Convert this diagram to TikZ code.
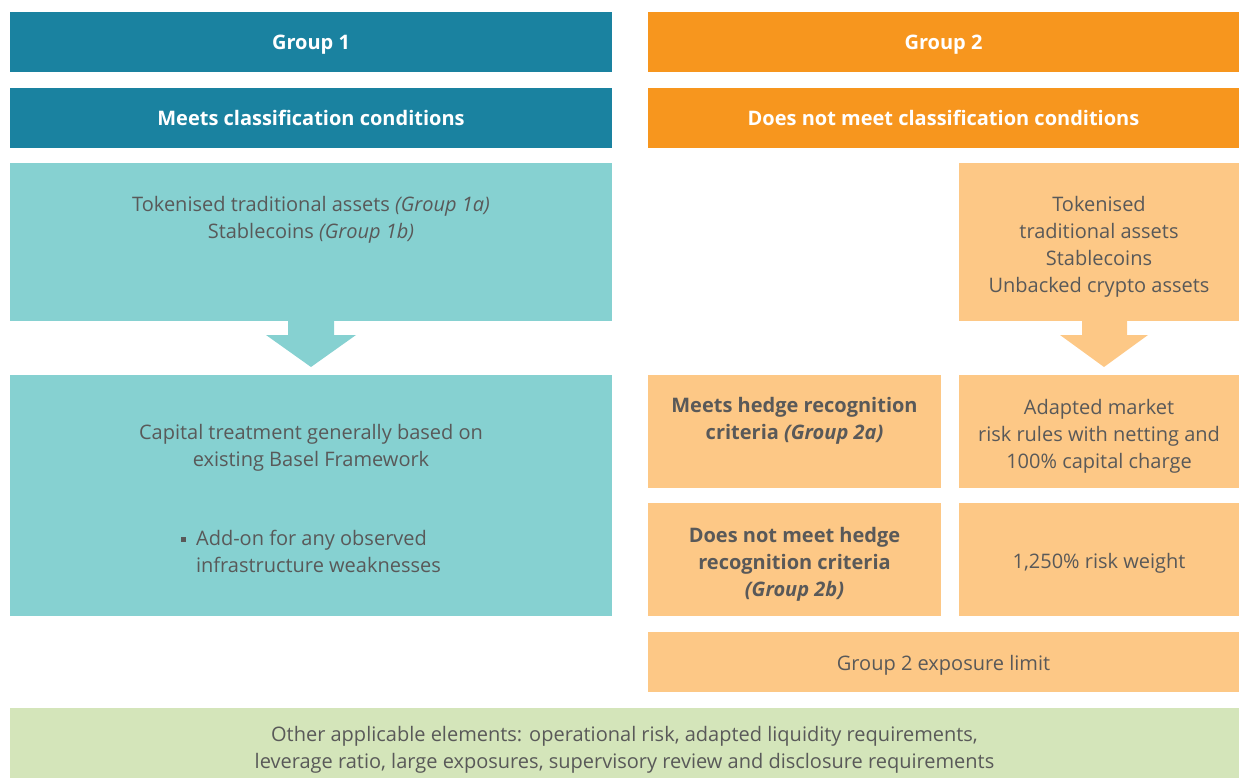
\documentclass[tikz,border=0pt]{standalone}
\usepackage{fontspec}
\setmainfont{Open Sans}
\usepackage{tikz}
\usetikzlibrary{calc}
\definecolor{tealdark}{HTML}{1A82A0}
\definecolor{teallight}{HTML}{86D1D1}
\definecolor{orangedark}{HTML}{F7961E}
\definecolor{orangelight}{HTML}{FDC886}
\definecolor{greenlight}{HTML}{D4E5BA}
\definecolor{txtgrey}{HTML}{595959}
\tikzstyle{box}=[anchor=north west,inner sep=0pt,outer sep=0pt,
                 align=center,text=txtgrey,
                 font=\fontsize{20}{27}\selectfont,
                 execute at begin node={\rule{0pt}{22pt}}]
\tikzstyle{headbox}=[anchor=north west,inner sep=0pt,outer sep=0pt,
                     minimum height=60pt,text=white,
                     text height=20pt,text depth=4pt,
                     font=\fontsize{20}{24}\selectfont\bfseries]
\tikzstyle{bodytext}=[inner sep=0pt,align=center,text=txtgrey,
                      font=\fontsize{20}{27}\selectfont]

\begin{document}
\begin{tikzpicture}[x=1pt,y=-1pt]
    \useasboundingbox (0,0) rectangle (1239,778);
    \newcommand{\bul}{\raisebox{4pt}{\rule{5pt}{5pt}}}
    % headers
    \node (g1) at (10,12) [headbox,fill=tealdark,minimum width=602pt]{Group 1};
    \node (g2) at (648,12) [headbox,fill=orangedark,minimum width=591pt]{Group 2};
    \node (c1) at (10,88) [headbox,fill=tealdark,minimum width=602pt]{Meets classification conditions};
    \node (c2) at (648,88) [headbox,fill=orangedark,minimum width=591pt]{Does not meet classification conditions};
    % group 1
    \node (a1) at (10,163) [box,fill=teallight,minimum width=602pt,minimum height=158pt]{};
    \node (a1t) at (311,220) [bodytext]{Tokenised traditional assets \textit{(Group 1a)}\\
        Stablecoins \textit{(Group 1b)}};
    \node (t1) at (10,375) [box,fill=teallight,minimum width=602pt,minimum height=241pt]{
        \rule{0pt}{29pt}Capital treatment generally based on\\existing Basel Framework\\[55pt]
        \begin{tabular}{@{}l@{\hspace{10pt}}l@{}}\bul & Add-on for any observed\\
        & infrastructure weaknesses\end{tabular}};
    \fill[teallight] ($(a1.south)+(-23,0)$) -- ($(a1.south)+(23,0)$) -- ($(a1.south)+(23,14)$)
        -- ($(a1.south)+(45,14)$) -- ($(t1.north)+(0,-8)$) -- ($(a1.south)+(-45,14)$)
        -- ($(a1.south)+(-23,14)$) -- cycle;
    % group 2
    \node (a2) at (959,163) [box,fill=orangelight,minimum width=280pt,minimum height=158pt]{
        \rule{0pt}{24pt}Tokenised\\traditional assets\\Stablecoins\\Unbacked crypto assets};
    \node (h2a) at (648,375) [box,fill=orangelight,minimum width=293pt,minimum height=113pt]{};
    \node (h2at) at (794.5,421) [bodytext,font=\fontsize{20}{27}\selectfont\bfseries]{
        Meets hedge recognition\\criteria \textit{(Group 2a)}};
    \node (r2a) at (959,375) [box,fill=orangelight,minimum width=280pt,minimum height=113pt]{
        \rule{0pt}{24pt}Adapted market\\risk rules with netting and\\100\% capital charge};
    \node (h2b) at (648,503) [box,fill=orangelight,minimum width=293pt,minimum height=113pt,
        font=\fontsize{20}{27}\selectfont\bfseries]{
        \rule{0pt}{24pt}Does not meet hedge\\recognition criteria\\\textit{(Group 2b)}};
    \node (r2b) at (959,503) [box,fill=orangelight,minimum width=280pt,minimum height=113pt]{
        1,250\% risk weight};
    \node (lim) at (648,632) [box,fill=orangelight,minimum width=591pt,minimum height=60pt]{
        Group 2 exposure limit};
    \fill[orangelight] ($(a2.south)+(-17,0)$) -- ($(a2.south)+(28,0)$) -- ($(a2.south)+(28,14)$)
        -- ($(a2.south)+(49,14)$) -- ($(r2a.north)+(5,-8)$) -- ($(a2.south)+(-39,14)$)
        -- ($(a2.south)+(-17,14)$) -- cycle;
    % other elements
    \node (oth) at (10,708) [box,fill=greenlight,minimum width=1229pt,minimum height=70pt]{
        \rule{0pt}{28pt}Other applicable elements: operational risk, adapted liquidity requirements,\\
        leverage ratio, large exposures, supervisory review and disclosure requirements};
\end{tikzpicture}
\end{document}
